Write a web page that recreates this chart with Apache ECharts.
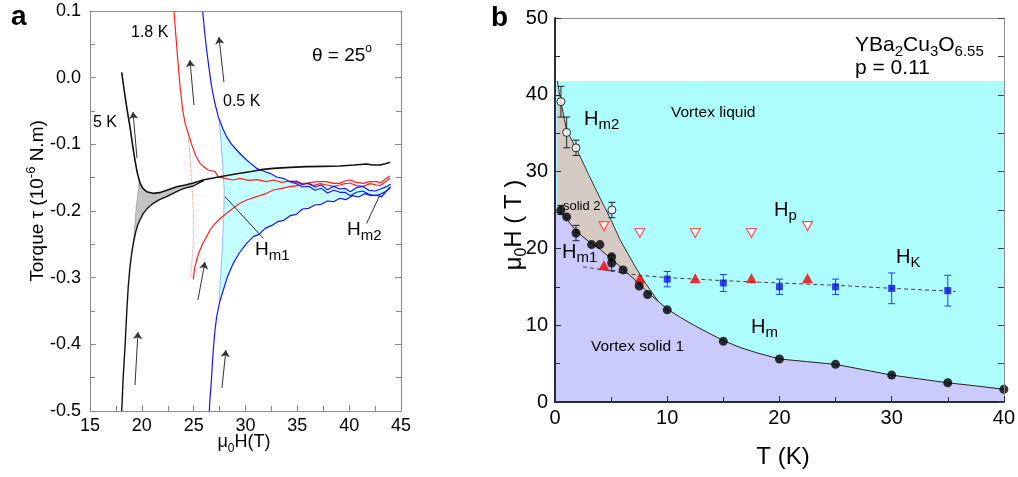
<!DOCTYPE html>
<html>
<head>
<meta charset="utf-8">
<script src="https://cdn.jsdelivr.net/npm/echarts@6/dist/echarts.min.js"></script>
<style>
  html, body { margin: 0; padding: 0; background: #fff; }
  #chart { width: 1018px; height: 477px; }
</style>
</head>
<body>
<div id="chart"></div>
<script>
// ===== Panel a: torque vs field sweeps, theta = 25 deg =====
const fieldTicksA = [15, 20, 25, 30, 35, 40, 45];
const torqueTickLabels = ['-0.5', '-0.4', '-0.3', '-0.2', '-0.1', '0.0', '0.1'];

// 5 K sweeps
const black5kUpper = [
  [18.06, 0.008], [18.2, -0.008], [18.4, -0.03], [18.6, -0.05], [18.86, -0.074], [19.1, -0.1],
  [19.34, -0.124], [19.55, -0.142], [19.82, -0.158], [20.1, -0.166], [20.47, -0.171], [21.1, -0.1735],
  [21.7, -0.1725], [22.4, -0.169], [23.36, -0.1635], [24.2, -0.161], [24.96, -0.158], [26.0, -0.153],
  [27.54, -0.1485], [28.5, -0.146], [29.46, -0.1435], [30.43, -0.141], [31.5, -0.138], [32.68, -0.136],
  [34.3, -0.1345], [35.9, -0.1335], [37.5, -0.133], [39.1, -0.1325], [40.5, -0.131], [41.68, -0.1295],
  [42.3, -0.131], [42.97, -0.131], [43.5, -0.129], [43.93, -0.127]
];
const black5kLower = [
  [18.06, -0.5], [18.2, -0.45], [18.38, -0.4035], [18.55, -0.35], [18.69, -0.3135], [18.85, -0.285],
  [19.02, -0.2635], [19.2, -0.247], [19.4, -0.232], [19.6, -0.221], [19.82, -0.2135], [20.14, -0.2035],
  [20.6, -0.195], [21.1, -0.1885], [21.7, -0.183], [22.39, -0.1785], [23.2, -0.172], [24.0, -0.1665],
  [24.96, -0.1625], [26.0, -0.154]
];
const black5kDotted = [[19.75, -0.156], [19.6, -0.175], [19.45, -0.195], [19.35, -0.215], [19.22, -0.24], [19.05, -0.262]];

// 1.8 K sweeps
const red18kUpper = [
  [23.1, 0.1], [23.3, 0.06], [23.52, 0.0165], [23.7, -0.015], [23.94, -0.0485], [24.2, -0.07],
  [24.48, -0.0835], [24.8, -0.1], [25.2, -0.117], [25.61, -0.1285], [26.0, -0.134], [26.41, -0.1385],
  [27.05, -0.141], [27.37, -0.1485], [28.0, -0.151], [28.82, -0.1535], [29.46, -0.151], [30.3, -0.154],
  [31.1, -0.153], [32.04, -0.156], [32.7, -0.1535], [33.5, -0.157], [34.3, -0.155], [35.25, -0.1585],
  [36.0, -0.158], [36.9, -0.156], [37.82, -0.156], [38.46, -0.1585], [39.1, -0.1585], [39.6, -0.155],
  [40.07, -0.1535], [40.7, -0.157], [41.36, -0.1585], [42.0, -0.156], [42.65, -0.156], [43.0, -0.158],
  [43.6, -0.151], [43.93, -0.1475]
];
const red18kLower = [
  [24.96, -0.3025], [25.1, -0.285], [25.29, -0.2735], [25.45, -0.265], [25.61, -0.2585], [25.9, -0.248],
  [26.25, -0.2385], [26.57, -0.2285], [27.0, -0.22], [27.5, -0.212], [28.18, -0.2035], [28.8, -0.196],
  [29.46, -0.1885], [30.11, -0.1835], [31.07, -0.1785], [32.04, -0.1735], [32.68, -0.1685], [33.5, -0.166],
  [34.29, -0.1635], [35.1, -0.162], [35.9, -0.1585], [36.5, -0.162], [37.2, -0.159], [37.82, -0.161],
  [38.46, -0.163], [39.1, -0.161], [39.6, -0.159], [40.07, -0.158], [40.7, -0.162], [41.36, -0.163],
  [42.0, -0.159], [42.65, -0.161], [43.0, -0.162], [43.6, -0.155], [43.93, -0.151]
];
const red18kDotted = [[24.48, -0.086], [24.7, -0.13], [24.9, -0.18], [25.02, -0.22], [24.92, -0.26], [24.7, -0.3]];

// 0.5 K sweeps
const blue05kUpper = [
  [25.87, 0.1], [26.05, 0.07], [26.25, 0.0415], [26.5, 0.012], [26.73, -0.0135], [27.0, -0.035],
  [27.37, -0.0585], [27.8, -0.076], [28.18, -0.0885], [28.6, -0.099], [29.15, -0.1085], [29.6, -0.116],
  [30.11, -0.1235], [30.6, -0.13], [31.07, -0.136], [31.7, -0.14], [32.36, -0.1435], [33.0, -0.149],
  [33.64, -0.151], [34.3, -0.156], [34.9, -0.155], [35.5, -0.16], [36.1, -0.158], [36.7, -0.164],
  [37.3, -0.161], [37.9, -0.168], [38.5, -0.163], [39.1, -0.167], [39.6, -0.166], [40.1, -0.171],
  [40.7, -0.165], [41.3, -0.163], [41.9, -0.169], [42.5, -0.17], [43.0, -0.167], [43.6, -0.1635], [44.0, -0.1595]
];
const blue05kInner = [
  [34.3, -0.156], [34.9, -0.159], [35.5, -0.164], [36.1, -0.163], [36.7, -0.169], [37.3, -0.166],
  [37.9, -0.173], [38.5, -0.169], [39.1, -0.172], [39.6, -0.172], [40.1, -0.177], [40.7, -0.172],
  [41.3, -0.17], [41.9, -0.175], [42.5, -0.177], [43.0, -0.175], [43.6, -0.17], [44.0, -0.165]
];
const blue05kLower = [
  [26.51, -0.5], [26.58, -0.48], [26.67, -0.4635], [26.78, -0.435], [26.89, -0.4085], [27.05, -0.38],
  [27.22, -0.3585], [27.5, -0.337], [27.86, -0.3185], [28.3, -0.297], [28.82, -0.2785], [29.4, -0.263],
  [30.11, -0.2485], [30.75, -0.2385], [31.3, -0.235], [31.9, -0.226], [32.5, -0.222], [33.1, -0.216],
  [33.7, -0.214], [34.3, -0.207], [34.9, -0.205], [35.5, -0.197], [36.1, -0.196], [36.7, -0.191],
  [37.3, -0.19], [37.9, -0.185], [38.5, -0.186], [39.1, -0.181], [39.7, -0.183], [40.3, -0.177],
  [40.9, -0.179], [41.5, -0.174], [42.1, -0.177], [42.6, -0.176], [43.1, -0.179], [43.6, -0.17], [44.0, -0.1635]
];
const blue05kDotted = [[27.45, -0.063], [27.6, -0.09], [27.8, -0.13], [27.95, -0.17], [27.9, -0.21], [27.75, -0.26], [27.55, -0.31], [27.45, -0.335]];

// sweep direction arrows and label pointers (field, torque)
const sweepArrows = [
  [[25.03, -0.041], [24.64, 0.0265]],
  [[27.92, -0.0065], [27.44, 0.061]],
  [[19.53, -0.1205], [19.15, -0.0515]],
  [[19.34, -0.461], [19.63, -0.3815]],
  [[25.41, -0.3335], [26.09, -0.2765]],
  [[27.73, -0.4655], [28.11, -0.4085]]
];
const pointersA = [
  [[28.02, -0.1785], [31.72, -0.241]],
  [[42.97, -0.176], [41.68, -0.2185]]
];

// ===== Panel b: H-T phase diagram, YBa2Cu3O6.55 =====
const tempTicksB = [0, 10, 20, 30, 40];
const fieldTicksB = [0, 10, 20, 30, 40, 50];
const liquidTop = 41.8;

const hm2Boundary = [
  [0.2, 41.8], [0.53, 39.1], [1.04, 35.3], [1.87, 33.1], [3.0, 29.6], [4.0, 26.6], [5.0, 23.7],
  [5.8, 21.1], [7.0, 18.0], [8.0, 15.6], [9.2, 13.1]
];
const hm1Boundary = [
  [0, 24.7], [0.53, 24.6], [1.04, 23.8], [1.87, 22.3], [2.5, 21.5], [3.26, 20.6], [4.0, 19.9],
  [5.05, 18.6], [6.07, 17.3], [7.5, 15.4], [8.25, 14.3], [9.2, 13.1], [10, 12.1], [11.2, 11.0],
  [12.5, 9.9], [13.8, 8.9], [15, 8.0], [16.5, 7.1], [18, 6.4], [20, 5.6], [22.5, 5.25], [25, 4.9],
  [27.5, 4.2], [30, 3.5], [32.5, 3.0], [35, 2.5], [37.5, 2.1], [40, 1.65]
];
const hkFit = [[2.5, 17.6], [7.5, 16.5], [10, 16.2], [15, 15.8], [20, 15.5], [25, 15.2], [30, 14.8], [35.7, 14.4]];

const hmPoints = [
  [0.53, 25.0], [1.04, 24.1], [1.87, 22.0], [3.26, 20.5], [4.0, 20.5], [5.05, 18.9], [5.05, 18.1],
  [6.07, 17.2], [7.5, 15.1], [8.25, 14.0], [10.0, 12.0], [15.0, 7.9], [20.0, 5.6], [25.0, 4.9],
  [30.0, 3.5], [35.0, 2.5], [40.0, 1.65]
];
const hmErrors = [[0.53, 25.0, 0.6], [1.87, 22.0, 1.0], [5.05, 18.1, 1.0]];
const hm2Points = [[0.53, 39.1, 2.0], [1.04, 35.1, 2.0], [1.87, 33.1, 1.0], [5.07, 25.0, 1.0]];
const hpPoints = [[4.36, 22.9], [7.56, 22.0], [12.5, 22.0], [17.5, 22.0], [22.5, 22.9]];
const hkTriangles = [[4.36, 17.8], [7.56, 16.1], [12.5, 16.1], [17.5, 16.1], [22.5, 16.1]];
const hkSquares = [[10, 16.0, 1.0], [15, 15.5, 1.1], [20, 15.0, 1.0], [25, 15.0, 1.0], [30, 14.8, 2.0], [35, 14.5, 2.0]];

// ---------------------------------------------------------------
const FONT = '"Liberation Sans", Arial, Helvetica, sans-serif';
const AXIS_GRAY = '#8a8a8a';
const AXIS_DARK = '#2b2b3a';

const grayRegion = [
  ...black5kDotted,
  ...black5kLower.filter(p => p[0] > 19.05 && p[0] <= 26),
  ...black5kUpper.filter(p => p[0] >= 19.8 && p[0] <= 26).reverse()
];
const cyanRegion = [
  ...blue05kDotted,
  ...blue05kLower.filter(p => p[0] > 27.5),
  ...blue05kUpper.filter(p => p[0] > 27.45).reverse()
];

function polygonSeries(points, color) {
  return {
    type: 'custom', xAxisIndex: 0, yAxisIndex: 0, silent: true, z: 1,
    data: points, encode: { x: 0, y: 1 },
    renderItem(params, api) {
      if (params.dataIndex !== 0) return null;
      return { type: 'polygon', shape: { points: points.map(p => api.coord(p)) }, style: { fill: color } };
    }
  };
}

function curve(data, color, width, type, axes, z) {
  return {
    type: 'line', xAxisIndex: axes, yAxisIndex: axes, data, showSymbol: false, symbol: 'none',
    silent: true, z: z || 3,
    lineStyle: { color, width, type: type || 'solid' }
  };
}

function errorBars(data, color, axes) {
  return {
    type: 'custom', xAxisIndex: axes, yAxisIndex: axes, silent: true, z: 6,
    data, encode: { x: 0, y: 1 },
    renderItem(params, api) {
      const x = api.value(0), y = api.value(1), e = api.value(2);
      const t = api.coord([x, y + e]);
      const b = api.coord([x, y - e]);
      const h = 3.5;
      const style = { stroke: color, lineWidth: 1 };
      return {
        type: 'group', children: [
          { type: 'line', shape: { x1: t[0], y1: t[1], x2: b[0], y2: b[1] }, style },
          { type: 'line', shape: { x1: t[0] - h, y1: t[1], x2: t[0] + h, y2: t[1] }, style },
          { type: 'line', shape: { x1: b[0] - h, y1: b[1], x2: b[0] + h, y2: b[1] }, style }
        ]
      };
    }
  };
}

function richStyles(base, small, lh) {
  return {
    n: { fontSize: base, fontFamily: FONT, fill: '#000', color: '#000', lineHeight: lh, verticalAlign: 'middle' },
    s: { fontSize: small, fontFamily: FONT, fill: '#000', color: '#000', height: small + 1, verticalAlign: 'bottom' },
    u: { fontSize: small, fontFamily: FONT, fill: '#000', color: '#000', height: small + 1, verticalAlign: 'top' }
  };
}
function text(x, y, str, base, small, opts) {
  opts = opts || {};
  return {
    type: 'text', x, y, rotation: opts.rotation || 0, silent: true, z: 200,
    style: {
      text: str, rich: richStyles(base, small || base, opts.lh || base + 8),
      align: opts.align || 'left', verticalAlign: 'middle',
      fontFamily: FONT, fontSize: base, fontWeight: opts.bold ? 'bold' : 'normal', fill: '#000'
    }
  };
}

function xAxisPair(grid, ticks, dark, labelSize) {
  const lineColor = dark ? AXIS_DARK : AXIS_GRAY;
  return [
    {
      gridIndex: grid, type: 'value', position: 'bottom', z: 10,
      min: ticks[0], max: ticks[ticks.length - 1], interval: ticks[1] - ticks[0],
      axisLine: { onZero: false, lineStyle: { color: lineColor, width: dark ? 2 : 1 } },
      axisTick: { inside: true, length: 6, lineStyle: { color: lineColor } },
      minorTick: { show: true, splitNumber: 2, length: 5, lineStyle: { color: lineColor } },
      axisLabel: { color: '#000', fontSize: labelSize, fontFamily: FONT, margin: 6 },
      splitLine: { show: false }
    },
    {
      gridIndex: grid, type: 'value', position: 'top', z: 10,
      min: ticks[0], max: ticks[ticks.length - 1], interval: ticks[1] - ticks[0],
      axisLine: { onZero: false, lineStyle: { color: AXIS_GRAY, width: 1 } },
      axisTick: { show: false }, axisLabel: { show: false }, splitLine: { show: false }
    }
  ];
}

const option = {
  animation: false,
  backgroundColor: '#fff',
  grid: [
    { left: 90, top: 11, width: 311, height: 400 },
    { left: 555, top: 18, width: 450, height: 384 }
  ],
  xAxis: [
    ...xAxisPair(0, fieldTicksA, false, 18),
    ...xAxisPair(1, tempTicksB, true, 20)
  ],
  yAxis: [
    {
      gridIndex: 0, type: 'value', position: 'left', z: 10, min: -0.5, max: 0.1, interval: 0.1,
      axisLine: { onZero: false, lineStyle: { color: AXIS_GRAY } },
      axisTick: { inside: true, length: 6, lineStyle: { color: AXIS_GRAY } },
      minorTick: { show: true, splitNumber: 2, length: 5, lineStyle: { color: AXIS_GRAY } },
      axisLabel: {
        color: '#000', fontSize: 18, fontFamily: FONT, margin: 9,
        formatter: v => torqueTickLabels[Math.round((v + 0.5) * 10)]
      },
      splitLine: { show: false }
    },
    {
      gridIndex: 0, type: 'value', position: 'right', z: 10, min: -0.5, max: 0.1, interval: 0.1,
      axisLine: { onZero: false, lineStyle: { color: AXIS_GRAY } },
      axisTick: { inside: true, length: 6, lineStyle: { color: AXIS_GRAY } },
      minorTick: { show: true, splitNumber: 2, length: 5, lineStyle: { color: AXIS_GRAY } },
      axisLabel: { show: false }, splitLine: { show: false }
    },
    {
      gridIndex: 1, type: 'value', position: 'left', z: 10,
      min: fieldTicksB[0], max: fieldTicksB[fieldTicksB.length - 1], interval: 10,
      axisLine: { onZero: false, lineStyle: { color: AXIS_DARK, width: 2 } },
      axisTick: { inside: true, length: 6, lineStyle: { color: AXIS_DARK } },
      minorTick: { show: true, splitNumber: 2, length: 5, lineStyle: { color: AXIS_DARK } },
      axisLabel: { color: '#000', fontSize: 20, fontFamily: FONT, margin: 7 },
      splitLine: { show: false }
    },
    {
      gridIndex: 1, type: 'value', position: 'right', z: 10,
      min: fieldTicksB[0], max: fieldTicksB[fieldTicksB.length - 1], interval: 10,
      axisLine: { onZero: false, lineStyle: { color: AXIS_GRAY } },
      axisTick: { inside: true, length: 6, lineStyle: { color: '#444' } },
      minorTick: { show: true, splitNumber: 2, length: 6, lineStyle: { color: '#444' } },
      axisLabel: { show: false }, splitLine: { show: false }
    }
  ],
  series: [
    // ---- panel a ----
    polygonSeries(grayRegion, '#c4c4c4'),
    polygonSeries(cyanRegion, '#c6ffff'),
    curve(black5kDotted, '#808080', 1, 'dotted', 0, 2),
    curve(red18kDotted, '#ff8a8a', 1, 'dotted', 0, 2),
    curve(blue05kDotted, '#5070ff', 1, 'dotted', 0, 2),
    curve(red18kLower, '#ff1f1f', 1.2, 'solid', 0),
    curve(red18kUpper, '#ff1f1f', 1.2, 'solid', 0),
    curve(blue05kLower, '#1515ff', 1.2, 'solid', 0),
    curve(blue05kInner, '#1515ff', 1.1, 'solid', 0),
    curve(blue05kUpper, '#1515ff', 1.2, 'solid', 0),
    curve(black5kLower, '#111', 1.4, 'solid', 0, 4),
    curve(black5kUpper, '#111', 1.6, 'solid', 0, 4),
    {
      type: 'lines', coordinateSystem: 'cartesian2d', xAxisIndex: 0, yAxisIndex: 0, silent: true, z: 5,
      data: sweepArrows.map(c => ({ coords: c })),
      symbol: ['none', 'arrow'], symbolSize: 7,
      lineStyle: { color: '#333', width: 1, opacity: 1 }
    },
    {
      type: 'lines', coordinateSystem: 'cartesian2d', xAxisIndex: 0, yAxisIndex: 0, silent: true, z: 5,
      data: pointersA.map(c => ({ coords: c })),
      symbol: 'none', lineStyle: { color: '#333', width: 1, opacity: 1 }
    },

    // ---- panel b ----
    {
      type: 'line', xAxisIndex: 2, yAxisIndex: 2, silent: true, z: 1, showSymbol: false, symbol: 'none',
      data: [[tempTicksB[0], liquidTop], [tempTicksB[tempTicksB.length - 1], liquidTop]],
      lineStyle: { width: 0 }, areaStyle: { color: '#aefdfd', opacity: 1 }
    },
    {
      type: 'line', xAxisIndex: 2, yAxisIndex: 2, silent: true, z: 1, showSymbol: false, symbol: 'none',
      data: hm2Boundary, lineStyle: { color: '#333', width: 1 }, areaStyle: { color: '#d6cbc4', opacity: 1 }
    },
    {
      type: 'line', xAxisIndex: 2, yAxisIndex: 2, silent: true, z: 1, showSymbol: false, symbol: 'none',
      data: hm1Boundary, lineStyle: { color: '#222', width: 1 }, areaStyle: { color: '#cbcbfb', opacity: 1 }
    },
    curve(hkFit, '#444', 1, [4, 3], 2, 4),
    errorBars(hm2Points, '#222', 2),
    errorBars(hmErrors, '#222', 2),
    errorBars(hkSquares, '#1a3cff', 2),
    {
      type: 'scatter', xAxisIndex: 2, yAxisIndex: 2, silent: true, z: 7, data: hpPoints,
      symbol: 'triangle', symbolRotate: 180, symbolSize: [10, 9],
      itemStyle: { color: '#fff', borderColor: '#ff3030', borderWidth: 1.2 }
    },
    {
      type: 'scatter', xAxisIndex: 2, yAxisIndex: 2, silent: true, z: 7, data: hkTriangles,
      symbol: 'triangle', symbolSize: [11, 10], itemStyle: { color: '#f00000' }
    },
    {
      type: 'scatter', xAxisIndex: 2, yAxisIndex: 2, silent: true, z: 7, data: hkSquares,
      symbol: 'rect', symbolSize: 7, itemStyle: { color: '#0a14e6' }
    },
    {
      type: 'scatter', xAxisIndex: 2, yAxisIndex: 2, silent: true, z: 7, data: hmPoints,
      symbol: 'circle', symbolSize: 9, itemStyle: { color: '#000' }
    },
    {
      type: 'scatter', xAxisIndex: 2, yAxisIndex: 2, silent: true, z: 7, data: hm2Points,
      symbol: 'circle', symbolSize: 8, itemStyle: { color: '#fff', borderColor: '#000', borderWidth: 1 }
    }
  ],
  graphic: [
    // panel a
    text(11, 17, 'a', 28, 28, { bold: true }),
    text(312, 56, '{n|θ = 25}{u|o}', 19, 12),
    text(131, 33, '{n|1.8 K}', 16),
    text(223, 102, '{n|0.5 K}', 16),
    text(93, 123, '{n|5 K}', 16),
    text(255, 250, '{n|H}{s|m1}', 19, 15, { lh: 28 }),
    text(347, 230, '{n|H}{s|m2}', 19, 15, { lh: 28 }),
    text(38, 201, '{n|Torque τ (10}{u|-6}{n| N.m)}', 19, 13, { rotation: Math.PI / 2, align: 'center', lh: 27 }),
    text(244, 442, '{n|μ}{s|0}{n|H(T)}', 18, 12, { align: 'center', lh: 26 }),
    // panel b
    text(491, 18, 'b', 28, 28, { bold: true }),
    text(855, 45, '{n|YBa}{s|2}{n|Cu}{s|3}{n|O}{s|6.55}', 21, 15, { lh: 30 }),
    text(855, 68, '{n|p = 0.11}', 21),
    text(671, 113, '{n|Vortex liquid}', 15.5),
    text(584, 119, '{n|H}{s|m2}', 20, 15, { lh: 28 }),
    text(563, 206, '{n|solid 2}', 13),
    text(774, 210, '{n|H}{s|p}', 20, 15, { lh: 28 }),
    text(562, 252, '{n|H}{s|m1}', 20, 15, { lh: 28 }),
    text(896, 257, '{n|H}{s|K}', 20, 15, { lh: 28 }),
    text(751, 327, '{n|H}{s|m}', 20, 15, { lh: 28 }),
    text(591, 347, '{n|Vortex solid 1}', 15.5),
    text(514, 225, '{n|μ}{s|0}{n|H ( T )}', 24, 16, { rotation: Math.PI / 2, align: 'center', lh: 32 }),
    text(783, 457, '{n|T (K)}', 24, 24, { align: 'center' })
  ]
};

const chart = echarts.init(document.getElementById('chart'), null, { renderer: 'canvas' });
chart.setOption(option);
</script>
</body>
</html>
